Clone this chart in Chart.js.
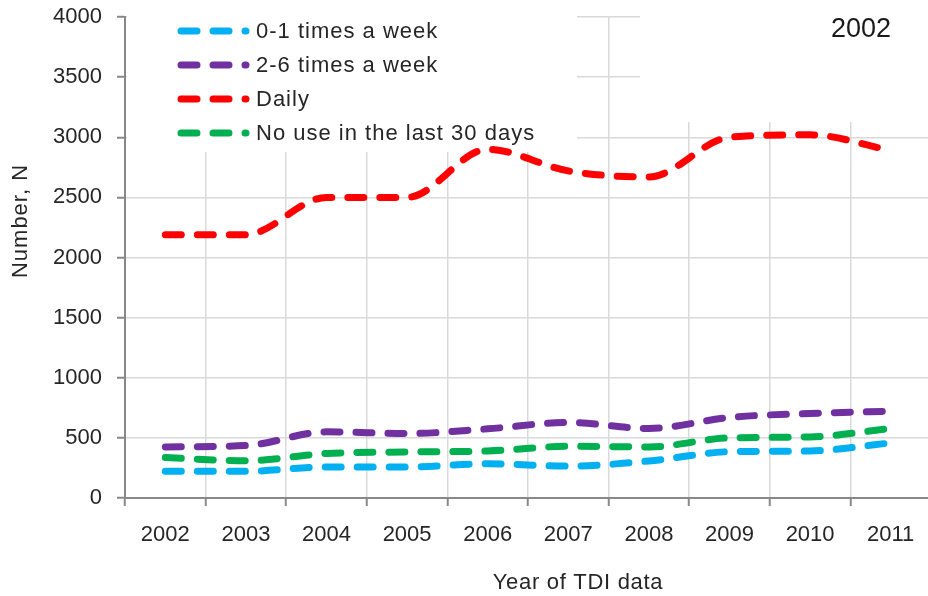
<!DOCTYPE html>
<html>
<head>
<meta charset="utf-8">
<script src="https://cdn.jsdelivr.net/npm/chart.js@4.4.1/dist/chart.umd.min.js"></script>
<style>
  html, body { margin: 0; padding: 0; background: #fff; overflow: hidden; }
  #wrap { width: 928px; height: 596px; overflow: hidden; }
</style>
</head>
<body>
<div id="wrap"><canvas id="usechart" width="940" height="596"></canvas></div>
<script>
// Values
const years = ['2002', '2003', '2004', '2005', '2006', '2007', '2008', '2009', '2010', '2011'];
const onceWeek  = [222, 222, 258, 258, 285, 265, 308, 385, 391, 458];   // 0-1 times a week
const twoToSix  = [425, 436, 550, 536, 575, 628, 578, 670, 703, 722];   // 2-6 times a week
const daily     = [2190, 2190, 2500, 2500, 2900, 2720, 2670, 3000, 3020, 2890];
const noUse     = [336, 310, 370, 383, 391, 430, 425, 500, 508, 578];   // no use in last 30 days

const seriesNames  = ['0-1 times a week', '2-6 times a week', 'Daily', 'No use in the last 30 days'];
const seriesColors = ['#00b0f0', '#7030a0', '#ff0000', '#00b050'];
const seriesData   = [onceWeek, twoToSix, daily, noUse];

const yMax = 4000;
const yStep = 500;
const cornerLabel = '2002';
const xTitle = 'Year of TDI data';
const yTitle = 'Number, N';

const fontFamily = '"Liberation Sans", Arial, sans-serif';
const textColor = '#262626';

// Legend, corner label and axis titles are drawn by hand (they sit inside the plot in the original)
const overlay = {
    id: 'overlay',
    beforeDatasetsDraw(chart) {
        const ctx = chart.ctx;
        const area = chart.chartArea;
        ctx.save();

        // white boxes that hide the gridlines behind legend and label
        ctx.fillStyle = '#fff';
        ctx.fillRect(area.left + 2, 0, 450, 152);
        ctx.fillRect(640, 0, 300, 122);

        // legend
        ctx.font = '22px ' + fontFamily;
        ctx.letterSpacing = '1px';
        ctx.textAlign = 'left';
        ctx.textBaseline = 'middle';
        chart.data.datasets.forEach((ds, i) => {
            const y = 31 + i * 34;
            ctx.strokeStyle = ds.borderColor;
            ctx.lineWidth = ds.borderWidth;
            ctx.lineCap = 'round';
            ctx.setLineDash(ds.borderDash);
            ctx.beginPath();
            ctx.moveTo(181, y);
            ctx.lineTo(246, y);
            ctx.stroke();
            ctx.setLineDash([]);
            ctx.fillStyle = textColor;
            ctx.fillText(ds.label, 256, y + 1);
        });

        // corner label
        ctx.letterSpacing = '0px';
        ctx.font = '27px ' + fontFamily;
        ctx.fillStyle = '#1a1a1a';
        ctx.textAlign = 'center';
        ctx.fillText(cornerLabel, 861, 30);

        // axis titles
        ctx.font = '22px ' + fontFamily;
        ctx.letterSpacing = '0.7px';
        ctx.fillStyle = textColor;
        ctx.fillText(xTitle, 578, 583);
        ctx.translate(21, 221);
        ctx.rotate(-Math.PI / 2);
        ctx.letterSpacing = '1px';
        ctx.fillText(yTitle, 0, 0);

        ctx.restore();
    }
};

const datasets = seriesNames.map((name, i) => ({
    label: name,
    data: seriesData[i],
    borderColor: seriesColors[i],
    backgroundColor: seriesColors[i],
    borderWidth: 7,
    borderDash: [16, 16],
    borderCapStyle: 'round',
    pointRadius: 0,
    cubicInterpolationMode: 'monotone',
    fill: false
}));

const canvas = document.getElementById('usechart');
const useChart = new Chart(canvas, {
    type: 'line',
    data: { labels: years, datasets: datasets },
    options: {
        responsive: false,
        devicePixelRatio: 1,
        animation: false,
        layout: { padding: { top: 17, right: 9, left: 0, bottom: 0 } },
        plugins: {
            legend: { display: false },
            tooltip: { enabled: false }
        },
        scales: {
            x: {
                type: 'category',
                offset: true,
                grid: { offset: true, color: '#d9d9d9', lineWidth: 1.5, tickLength: 8, tickColor: '#888', tickWidth: 2 },
                border: { color: '#888', width: 2 },
                ticks: { color: textColor, font: { family: fontFamily, size: 22 }, padding: 16, maxRotation: 0 },
                afterFit: scale => { scale.height = 98; }
            },
            y: {
                min: 0,
                max: yMax,
                grid: { color: '#d9d9d9', lineWidth: 1.5, tickLength: 8, tickColor: '#888', tickWidth: 2 },
                border: { color: '#888', width: 2 },
                ticks: {
                    stepSize: yStep,
                    color: textColor,
                    font: { family: fontFamily, size: 22 },
                    padding: 15,
                    callback: value => String(value)
                },
                // fixed width, and let the layout padding decide the top edge
                afterFit: scale => { scale.width = 125; scale.paddingTop = 0; }
            }
        }
    },
    plugins: [overlay]
});
</script>
</body>
</html>
